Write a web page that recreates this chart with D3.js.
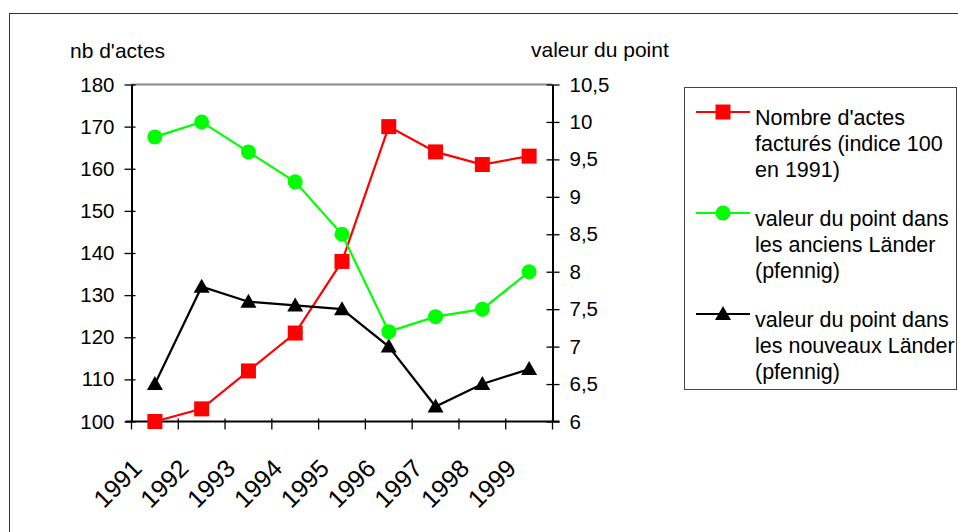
<!DOCTYPE html>
<html>
<head>
<meta charset="utf-8">
<script src="https://cdn.jsdelivr.net/npm/d3@7"></script>
<style>
  body { margin: 0; background: #fff; }
  text { font-family: "Liberation Sans", Arial, sans-serif; fill: #000; }
</style>
</head>
<body>
<div id="chart"></div>
<script>
// data
var years = ["1991", "1992", "1993", "1994", "1995", "1996", "1997", "1998", "1999"];
var actes = [100, 103, 112, 121, 138, 170, 164, 161, 163];          // left axis
var pointAnciens = [9.8, 10.0, 9.6, 9.2, 8.5, 7.2, 7.4, 7.5, 8.0];  // right axis
var pointNouveaux = [6.5, 7.8, 7.6, 7.55, 7.5, 7.0, 6.2, 6.5, 6.7]; // right axis
var leftTicks = [100, 110, 120, 130, 140, 150, 160, 170, 180];
var rightTicks = [6, 6.5, 7, 7.5, 8, 8.5, 9, 9.5, 10, 10.5];
var legendLabels = [
  ["Nombre d'actes", "facturés (indice 100", "en 1991)"],
  ["valeur du point dans", "les anciens Länder", "(pfennig)"],
  ["valeur du point dans", "les nouveaux Länder", "(pfennig)"]
];

var W = 958, H = 532;
var margin = { top: 84.5, left: 131.5 }
var w = 421, h = 337

var svg = d3.select('#chart').append('svg')
  .attr('width', W)
  .attr('height', H)

// outer frame
svg.append('rect')
  .attr('x', 9.5).attr('y', 13.5)
  .attr('width', 1000).attr('height', 600)
  .attr('fill', 'none').attr('stroke', '#333').attr('stroke-width', 1)

var g = svg.append('g')
  .attr('transform', 'translate(' + margin.left + ',' + margin.top + ')')

var x = d3.scaleBand().domain(years).range([0, w])
var yL = d3.scaleLinear().domain([100, 180]).range([h, 0])
var yR = d3.scaleLinear().domain([6, 10.5]).range([h, 0])
var fr = d3.formatLocale({ decimal: ",", thousands: " ", grouping: [3], currency: ["", ""] }).format("~g")

// top border of plot area (grey)
g.append('line')
  .attr('x1', 0).attr('x2', w).attr('y1', 0).attr('y2', 0)
  .attr('stroke', '#8a8a8a').attr('stroke-width', 2)

// left axis
var ax = g.append('g')
  .call(d3.axisLeft(yL).tickValues(leftTicks).tickSize(7).tickPadding(10).tickSizeOuter(0))
ax.selectAll('text').style('font-size', '20.5px')
ax.selectAll('.tick line').attr('x1', 4).attr('stroke-width', 1.3)
ax.select('.domain').attr('stroke-width', 2)

// right axis
var ar = g.append('g')
  .attr('transform', 'translate(' + w + ',0)')
  .call(d3.axisRight(yR).tickValues(rightTicks).tickFormat(fr).tickSize(7).tickPadding(10).tickSizeOuter(0))
ar.selectAll('text').style('font-size', '20.5px')
ar.selectAll('.tick line').attr('x1', -6).attr('stroke-width', 1.3)
ar.select('.domain').attr('stroke-width', 2)

// bottom axis: ticks on band edges
var edges = years.map(function (d) { return x(d) }).concat([w])
var ab = g.append('g').attr('transform', 'translate(0,' + h + ')')
ab.append('line').attr('x1', -6).attr('x2', w + 7).attr('stroke', '#000').attr('stroke-width', 2)
ab.selectAll('line.tk').data(edges).enter().append('line')
  .attr('class', 'tk')
  .attr('x1', function (d) { return d }).attr('x2', function (d) { return d })
  .attr('y1', -3).attr('y2', 8)
  .attr('stroke', '#000').attr('stroke-width', 1.3)
ab.selectAll('text').data(years).enter().append('text')
  .attr('transform', function (d) { return 'translate(' + (x(d) + x.bandwidth() / 2 - 11.5) + ',48.5) rotate(-45)' })
  .attr('text-anchor', 'end')
  .style('font-size', '25px')
  .text(function (d) { return d })

// axis titles
svg.append('text').attr('x', 70).attr('y', 58).style('font-size', '21px').text("nb d'actes")
svg.append('text').attr('x', 531).attr('y', 57).style('font-size', '21px').text("valeur du point")

var cx = function (d, i) { return x(years[i]) + x.bandwidth() / 2 }

var series = [
  { vals: actes, y: yL, color: '#ff0000', shape: 'square' },
  { vals: pointAnciens, y: yR, color: '#00ff00', shape: 'circle' },
  { vals: pointNouveaux, y: yR, color: '#000000', shape: 'triangle' }
]

function marker(sel, shape, color) {
  if (shape == 'square') {
    sel.append('rect').attr('x', -7.5).attr('y', -7.5).attr('width', 15).attr('height', 15).attr('fill', color)
  } else if (shape == 'circle') {
    sel.append('circle').attr('r', 7.5).attr('fill', color)
  } else {
    sel.append('path').attr('d', 'M0,-8L8,6L-8,6Z').attr('fill', color)
  }
}

// lines first, then markers (green above red like the original)
var order = [0, 2, 1]
order.forEach(function (k) {
  var s = series[k]
  var line = d3.line().x(cx).y(function (d) { return s.y(d) })
  g.append('path')
    .datum(s.vals)
    .attr('d', line)
    .attr('fill', 'none')
    .attr('stroke', s.color)
    .attr('stroke-width', 2.2)
})
order.forEach(function (k) {
  var s = series[k]
  g.selectAll(null).data(s.vals).enter().append('g')
    .attr('transform', function (d, i) { return 'translate(' + cx(d, i) + ',' + s.y(d) + ')' })
    .each(function () { marker(d3.select(this), s.shape, s.color) })
})

// legend
var lg = svg.append('g')
lg.append('rect')
  .attr('x', 684.5).attr('y', 87.5).attr('width', 272).attr('height', 302)
  .attr('fill', 'none').attr('stroke', '#444').attr('stroke-width', 1)

series.forEach(function (s, i) {
  var yy = 112 + i * 101
  lg.append('line')
    .attr('x1', 696).attr('x2', 750).attr('y1', yy).attr('y2', yy)
    .attr('stroke', s.color).attr('stroke-width', 2.2)
  var m = lg.append('g').attr('transform', 'translate(723,' + yy + ')')
  marker(m, s.shape, s.color)
  legendLabels[i].forEach(function (t, j) {
    lg.append('text')
      .attr('x', 755).attr('y', yy + 13 + j * 26)
      .style('font-size', '21.5px')
      .text(t)
  })
})
</script>
</body>
</html>
